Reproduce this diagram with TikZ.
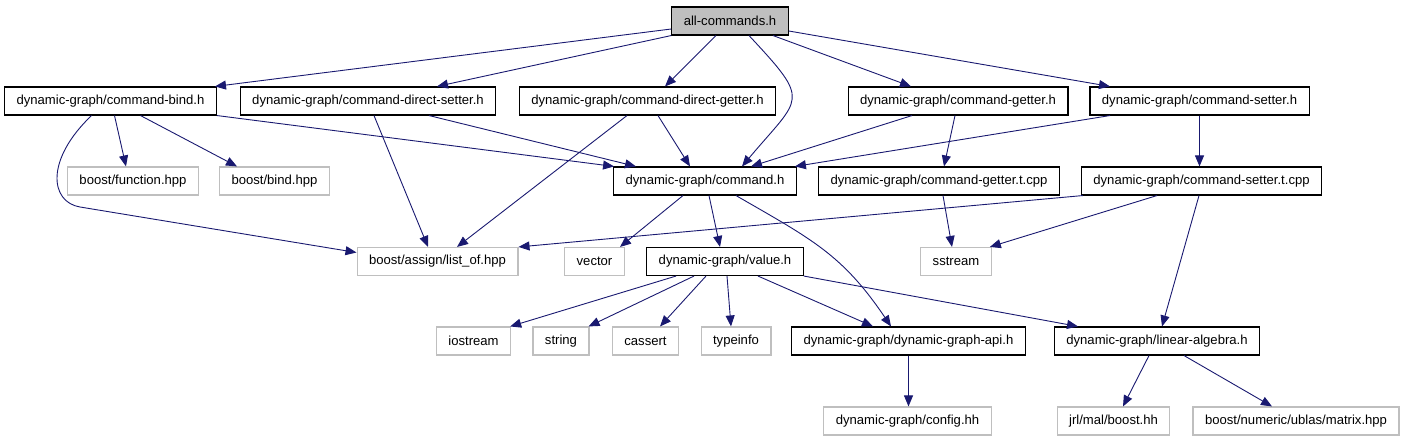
\documentclass[tikz,border=0pt]{standalone}
\usepackage{fontspec}
\setmainfont{Liberation Sans}
\usetikzlibrary{arrows.meta, positioning}
\definecolor{edgeblue}{HTML}{191970}
\definecolor{extgray}{HTML}{BFBFBF}
\tikzstyle{file} = [rectangle, 
minimum height=28pt, 
inner xsep=12pt, inner ysep=0pt,
draw=black, line width=1.1pt,
font=\fontsize{13.1}{15}\selectfont]
\tikzstyle{sysfile} = [file, draw=extgray]
\tikzstyle{arrow} = [-{Triangle[length=11pt,width=9pt]}, draw=edgeblue, line width=0.9pt]

\begin{document}
\begin{tikzpicture}[x=1pt, y=-1pt]
				
				% canvas of the include graph
				\useasboundingbox (0,0) rectangle (1404,443);
				
				\node[file, fill=extgray] (allcmd) at (730,21) {all-commands.h};
				
				\node[file] (bind) at (110.5,101) {dynamic-graph/command-bind.h};
				\node[file] (dsetter) at (368,101) {dynamic-graph/command-direct-setter.h};
				\node[file] (dgetter) at (647.5,101) {dynamic-graph/command-direct-getter.h};
				\node[file] (getter) at (958,101) {dynamic-graph/command-getter.h};
				\node[file] (setter) at (1199.5,101) {dynamic-graph/command-setter.h};
				
				\node[sysfile] (function) at (133,181) {boost/function.hpp};
				\node[sysfile] (bindhpp) at (274.5,181) {boost/bind.hpp};
				\node[file] (command) at (705,181) {dynamic-graph/command.h};
				\node[file] (gettert) at (939,181) {dynamic-graph/command-getter.t.cpp};
				\node[file] (settert) at (1201.5,181) {dynamic-graph/command-setter.t.cpp};
				
				\node[sysfile] (listof) at (437.5,261.5) {boost/assign/list\_of.hpp};
				\node[sysfile] (vector) at (594.5,261.5) {vector};
				\node[file] (value) at (725,261.5) {dynamic-graph/value.h};
				\node[sysfile] (sstream) at (956,261.5) {sstream};
				
				\node[sysfile] (iostream) at (473.5,341) {iostream};
				\node[sysfile] (strng) at (561,341) {string};
				\node[sysfile] (cassert) at (645.5,341) {cassert};
				\node[sysfile] (typeinfo) at (736,341) {typeinfo};
				\node[file] (api) at (908.5,341) {dynamic-graph/dynamic-graph-api.h};
				\node[file] (linalg) at (1157,341) {dynamic-graph/linear-algebra.h};
				
				\node[sysfile] (config) at (907.5,421) {dynamic-graph/config.hh};
				\node[sysfile] (jrl) at (1113.5,421) {jrl/mal/boost.hh};
				\node[sysfile] (matrix) at (1296,421) {boost/numeric/ublas/matrix.hpp};
				
				% Edges
				\draw[arrow] ([yshift=-8pt]allcmd.west) -- ([xshift=-2pt]bind.north east);
				\draw[arrow] (allcmd.south west) -- ([xshift=69pt]dsetter.north);
				\draw[arrow] ([xshift=-14pt]allcmd.south) -- ([xshift=17.5pt]dgetter.north);
				\draw[arrow] ([xshift=19pt]allcmd.south) to[out=-47, in=50, looseness=1.8] ([xshift=37pt]command.north);
				\draw[arrow] ([xshift=43pt]allcmd.south) -- ([xshift=-47pt]getter.north);
				\draw[arrow] ([yshift=-10pt]allcmd.east) -- ([xshift=-89.5pt]setter.north);
				
				\draw[arrow] ([xshift=4pt]bind.south) -- ([xshift=-7pt]function.north);
				\draw[arrow] ([xshift=30pt]bind.south) -- ([xshift=-37.5pt]bindhpp.north);
				\draw[arrow] (bind.south east) -- ([xshift=1pt]command.north west);
				\draw[arrow] ([xshift=-19pt]bind.south) .. controls (45,160) and (50,202) .. (80,207) -- ([yshift=9pt]listof.west);
				
				\draw[arrow] ([xshift=6pt]dsetter.south) -- ([xshift=-9.5pt]listof.north);
				\draw[arrow] ([xshift=61pt]dsetter.south) -- ([xshift=-69pt]command.north);
				\draw[arrow] ([xshift=-20.5pt]dgetter.south) -- ([xshift=19.5pt]listof.north);
				\draw[arrow] ([xshift=10.5pt]dgetter.south) -- ([xshift=-15pt]command.north);
				\draw[arrow] ([xshift=-46pt]getter.south) -- ([xshift=46pt]command.north);
				\draw[arrow] ([xshift=-3pt]getter.south) -- ([xshift=5pt]gettert.north);
				\draw[arrow] ([xshift=-89.5pt]setter.south) -- ([xshift=-2pt]command.north east);
				\draw[arrow] (setter.south) -- (setter.south |- settert.north);
				
				\draw[arrow] ([xshift=-22pt]command.south) -- ([xshift=25.5pt]vector.north);
				\draw[arrow] ([xshift=4pt]command.south) -- ([xshift=-5pt]value.north);
				\draw[arrow] ([xshift=31pt]command.south) to[out=-30, in=124, looseness=1.1] ([xshift=-17.5pt]api.north);
				\draw[arrow] ([xshift=4pt]gettert.south) -- ([xshift=-4pt]sstream.north);
				\draw[arrow] ([xshift=2pt]settert.south west) -- (listof.north east);
				\draw[arrow] ([xshift=-44.5pt]settert.south) -- ([xshift=-2pt]sstream.north east);
				\draw[arrow] ([xshift=-2.5pt]settert.south) -- ([xshift=5pt]linalg.north);
				
				\draw[arrow] ([xshift=-49pt]value.south) -- ([xshift=-1pt]iostream.north east);
				\draw[arrow] ([xshift=-31pt]value.south) -- ([xshift=-1pt]strng.north east);
				\draw[arrow] ([xshift=-19pt]value.south) -- ([xshift=14.5pt]cassert.north);
				\draw[arrow] ([xshift=2pt]value.south) -- ([xshift=-5pt]typeinfo.north);
				\draw[arrow] ([xshift=33pt]value.south) -- ([xshift=-35.5pt]api.north);
				\draw[arrow] (value.south east) -- ([xshift=-79pt]linalg.north);
				
				\draw[arrow] (api.south) -- (api.south |- config.north);
				\draw[arrow] ([xshift=-8pt]linalg.south) -- ([xshift=9.5pt]jrl.north);
				\draw[arrow] ([xshift=27pt]linalg.south) -- ([xshift=-24pt]matrix.north);
				
			\end{tikzpicture}
\end{document}
